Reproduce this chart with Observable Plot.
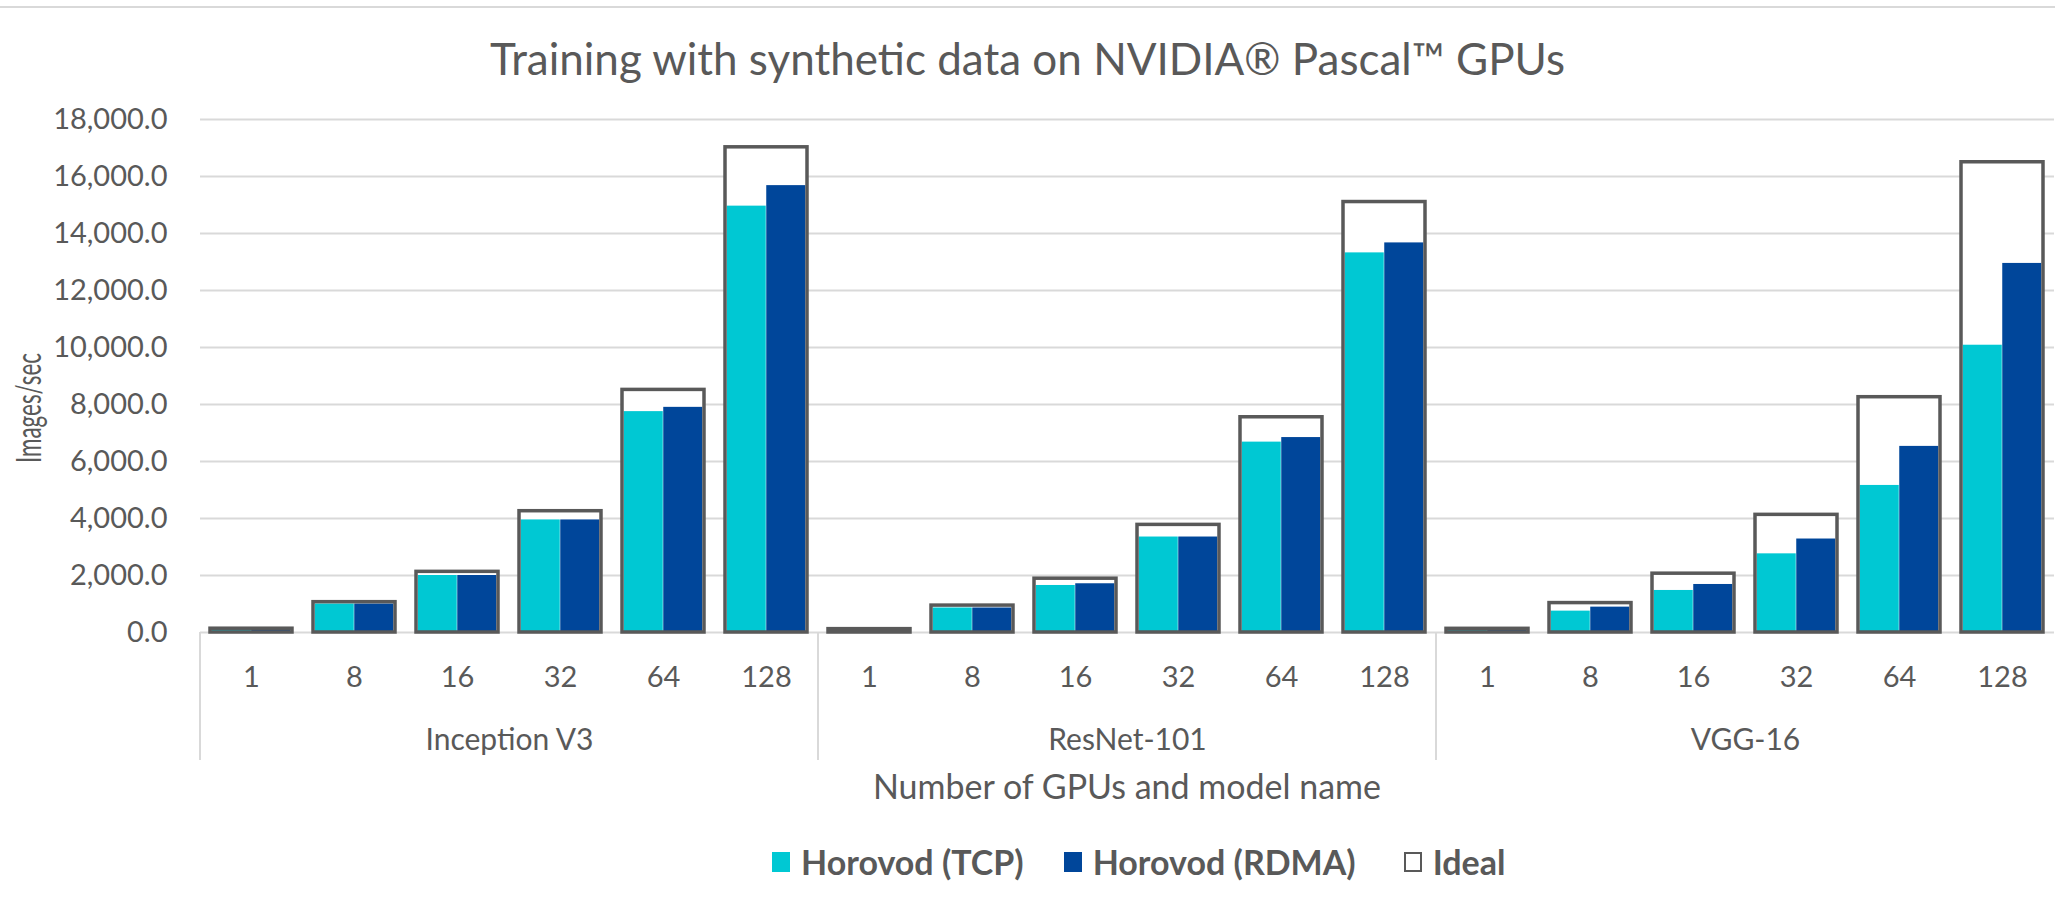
<!DOCTYPE html>
<html>
<head>
<meta charset="utf-8">
<script src="https://cdn.jsdelivr.net/npm/d3@7"></script>
<script src="https://cdn.jsdelivr.net/npm/@observablehq/plot@0.6"></script>
<style>
  html, body { margin: 0; padding: 0; background: #fff; }
  body { width: 2055px; height: 907px; position: relative; overflow: hidden; font-family: Lato, "Open Sans", sans-serif; color: #595959; }
  #topline { position: absolute; left: 0; top: 6px; width: 2055px; height: 0; border-top: 2px solid #d9d9d9; }
  #title { position: absolute; left: 0; width: 2055px; top: 30px; text-align: center; font-size: 44px; line-height: 56px; }
  #chart { position: absolute; left: 0; top: 100px; }
  #ylabel { position: absolute; left: 0; top: 228px; overflow: visible; }
  #xlabel { position: absolute; left: 199px; width: 1856px; top: 766px; text-align: center; font-size: 34px; line-height: 40px; }
  #legend { position: absolute; left: 772px; top: 842px; display: flex; align-items: center; font-size: 34px; font-weight: bold; line-height: 40px; }
  .item { display: flex; align-items: center; }
  .item.g1 { margin-right: 40px; }
  .item.g2 { margin-right: 48px; }
  .sw { width: 18px; height: 20px; margin-right: 11px; box-sizing: border-box; }
</style>
</head>
<body>
<div id="topline"></div>
<div id="title">Training with synthetic data on NVIDIA® Pascal™ GPUs</div>
<div id="chart"></div>
<svg id="ylabel" width="70" height="360">
  <text transform="translate(27,180) rotate(-90)" text-anchor="middle" dominant-baseline="central"
        font-family="Lato, 'Open Sans', sans-serif" font-size="34" fill="#595959"
        textLength="110" lengthAdjust="spacingAndGlyphs">Images/sec</text>
</svg>
<div id="xlabel">Number of GPUs and model name</div>
<div id="legend"></div>
<script>
// ---- data ----
const models = ["Inception V3", "ResNet-101", "VGG-16"];
const gpus = ["1", "8", "16", "32", "64", "128"];
const seriesNames = ["Horovod (TCP)", "Horovod (RDMA)", "Ideal"];
const seriesColors = ["#00c8d3", "#00469a", "#ffffff"];
const yTicks = [0, 2000, 4000, 6000, 8000, 10000, 12000, 14000, 16000, 18000];

const tcpInception = [133, 1000, 2000, 3950, 7750, 14960];
const tcpResNet = [118, 860, 1650, 3350, 6680, 13320];
const tcpVGG = [129, 750, 1475, 2760, 5160, 10080];

const rdmaInception = [133, 1000, 2000, 3950, 7900, 15680];
const rdmaResNet = [118, 860, 1710, 3350, 6840, 13670];
const rdmaVGG = [129, 890, 1685, 3280, 6530, 12950];

const idealInception = [133, 1064, 2128, 4256, 8512, 17024];
const idealResNet = [118, 944, 1888, 3776, 7552, 15104];
const idealVGG = [129, 1032, 2064, 4128, 8256, 16500];

// ---- tidy table ----
const tcp = [tcpInception, tcpResNet, tcpVGG];
const rdma = [rdmaInception, rdmaResNet, rdmaVGG];
const ideal = [idealInception, idealResNet, idealVGG];
const rows = [];
models.forEach((m, i) => gpus.forEach((g, j) => {
  rows.push({model: m, gpus: g, tcp: tcp[i][j], rdma: rdma[i][j], ideal: ideal[i][j]});
}));

const W = 2055, H = 670, ML = 199, MR = 0, MT = 19, MB = 138;
const padInner = 0.2, padOuter = 0.1;
const facetW = (W - ML - MR) / models.length;
const bw = Plot.scale({x: {type: "band", domain: gpus, range: [0, facetW], paddingInner: padInner, paddingOuter: padOuter}}).bandwidth;
const sw = 3.5;
const textColor = "#595959";

const plot = Plot.plot({
  width: W, height: H,
  marginLeft: ML, marginRight: MR, marginTop: MT, marginBottom: MB,
  style: {fontFamily: "Lato, 'Open Sans', sans-serif", color: textColor, background: "transparent", overflow: "visible"},
  fx: {domain: models, padding: 0, label: null},
  x: {domain: gpus, paddingInner: padInner, paddingOuter: padOuter, label: null},
  y: {domain: [0, 18000], label: null},
  marks: [
    Plot.gridY(yTicks, {stroke: "#d9d9d9", strokeOpacity: 1, strokeWidth: 2}),
    Plot.barY(rows, {fx: "model", x: "gpus", y: "ideal", fill: "#ffffff"}),
    Plot.barY(rows, {fx: "model", x: "gpus", y: "tcp", fill: seriesColors[0], insetLeft: sw / 2, insetRight: bw / 2}),
    Plot.barY(rows, {fx: "model", x: "gpus", y: "rdma", fill: seriesColors[1], insetLeft: bw / 2, insetRight: sw / 2}),
    Plot.barY(rows, {fx: "model", x: "gpus", y: "ideal", fill: "none", stroke: "#595959", strokeWidth: sw}),
    Plot.axisY({ticks: yTicks, tickFormat: d3.format(",.1f"), tickSize: 0, tickPadding: 33, fontSize: 29, fill: textColor}),
    Plot.axisX({tickSize: 0, tickPadding: 34, fontSize: 29, fill: textColor, label: null}),
    Plot.axisFx({anchor: "bottom", tickSize: 0, tickPadding: 96, fontSize: 30, fill: textColor, label: null})
  ]
});
document.getElementById("chart").appendChild(plot);

// category separators below the baseline, placed via the fx scale
const fx = plot.scale("fx");
const y = plot.scale("y");
const svg = d3.select(plot);
const y0 = y.apply(0);
models.forEach(m => {
  const xx = fx.apply(m);
  svg.append("line")
    .attr("x1", xx).attr("x2", xx)
    .attr("y1", y0).attr("y2", y0 + 128)
    .attr("stroke", "#d9d9d9").attr("stroke-width", 2);
});

// legend
const legend = document.getElementById("legend");
seriesNames.forEach((name, i) => {
  const item = document.createElement("div");
  item.className = "item g" + (i + 1);
  const s = document.createElement("div");
  s.className = "sw";
  s.style.background = seriesColors[i];
  if (name === "Ideal") s.style.border = "2px solid #595959";
  const t = document.createElement("span");
  t.textContent = name;
  item.appendChild(s); item.appendChild(t);
  legend.appendChild(item);
});
</script>
</body>
</html>
